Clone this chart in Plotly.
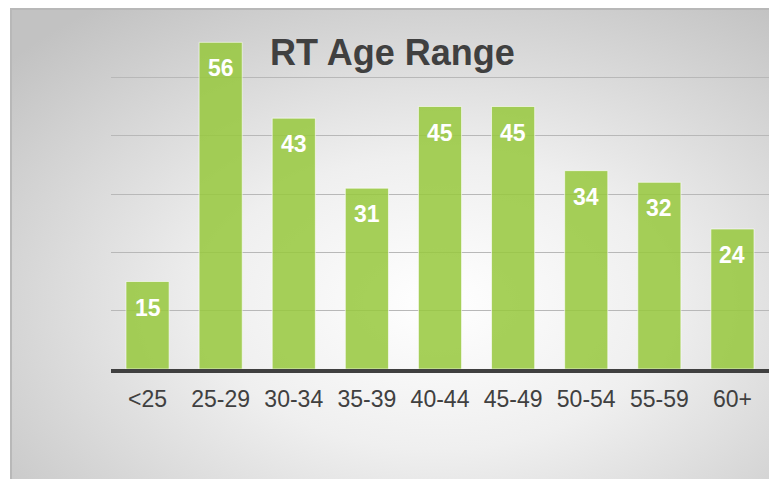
import base64

import plotly.graph_objects as go

# ── data ─────────────────────────────────────────────────────────────────────
age_ranges = ["<25", "25-29", "30-34", "35-39", "40-44", "45-49", "50-54", "55-59", "60+"]
counts = [15, 56, 43, 31, 45, 45, 34, 32, 24]

_FONT = "Liberation Sans, Arial, sans-serif"
_TEXT = "#404040"

# page has an 8px body margin, so the figure is 8px smaller each way
W, H = 769, 471
L, R, T, B = 103, 8, 11, 110
pw, ph = W - L - R, H - T - B

# radial gray backdrop, as an svg image behind the plot
svg = (
    '<svg xmlns="http://www.w3.org/2000/svg" width="762" height="480">'
    '<defs><radialGradient id="g" cx="0.56" cy="0.6" r="0.75">'
    '<stop offset="0" stop-color="#ffffff"/>'
    '<stop offset="0.4" stop-color="#efefef"/>'
    '<stop offset="1" stop-color="#c2c2c2"/></radialGradient></defs>'
    '<rect x="1" y="1" width="760" height="490" fill="url(#g)" stroke="#b8b8b8" stroke-width="2"/>'
    '</svg>'
)
src = "data:image/svg+xml;base64," + base64.b64encode(svg.encode()).decode()

fig = go.Figure(go.Bar(
    x=age_ranges, y=counts,
    marker=dict(color="rgba(150,200,60,0.85)",
                line=dict(color="rgba(255,255,255,0.6)", width=1)),
    width=0.59,
    hoverinfo="skip",
))

# value labels just under each bar top
for cat, v in zip(age_ranges, counts):
    fig.add_annotation(x=cat, y=v, text=f"<b>{v}</b>", showarrow=False,
                       yshift=-26, font=dict(family=_FONT, size=23, color="white"))

fig.add_annotation(xref="paper", yref="paper", x=(384 - L) / pw, y=(361 - 44) / ph,
                   xanchor="center", yanchor="middle",
                   text="<b>RT Age Range</b>", showarrow=False,
                   font=dict(family=_FONT, size=36, color=_TEXT))

fig.update_layout(
    width=W, height=H,
    margin=dict(l=L, r=R, t=T, b=B),
    paper_bgcolor="white",
    plot_bgcolor="rgba(0,0,0,0)",
    showlegend=False,
    font=dict(family=_FONT, color=_TEXT),
    images=[dict(source=src, xref="paper", yref="paper",
                 x=(2 - L) / pw, y=(361 - 0) / ph,
                 sizex=762 / pw, sizey=480 / ph,
                 xanchor="left", yanchor="top", sizing="stretch", layer="below")],
    xaxis=dict(showline=True, linewidth=4, linecolor=_TEXT,
               ticks="outside", ticklen=6, tickcolor="rgba(0,0,0,0)",
               tickfont=dict(size=23, color=_TEXT), showgrid=False),
    yaxis=dict(range=[0, 60], dtick=10, showticklabels=False,
               gridcolor="#b8b8b8", gridwidth=1, zeroline=False),
)

fig.write_html("out.html")
